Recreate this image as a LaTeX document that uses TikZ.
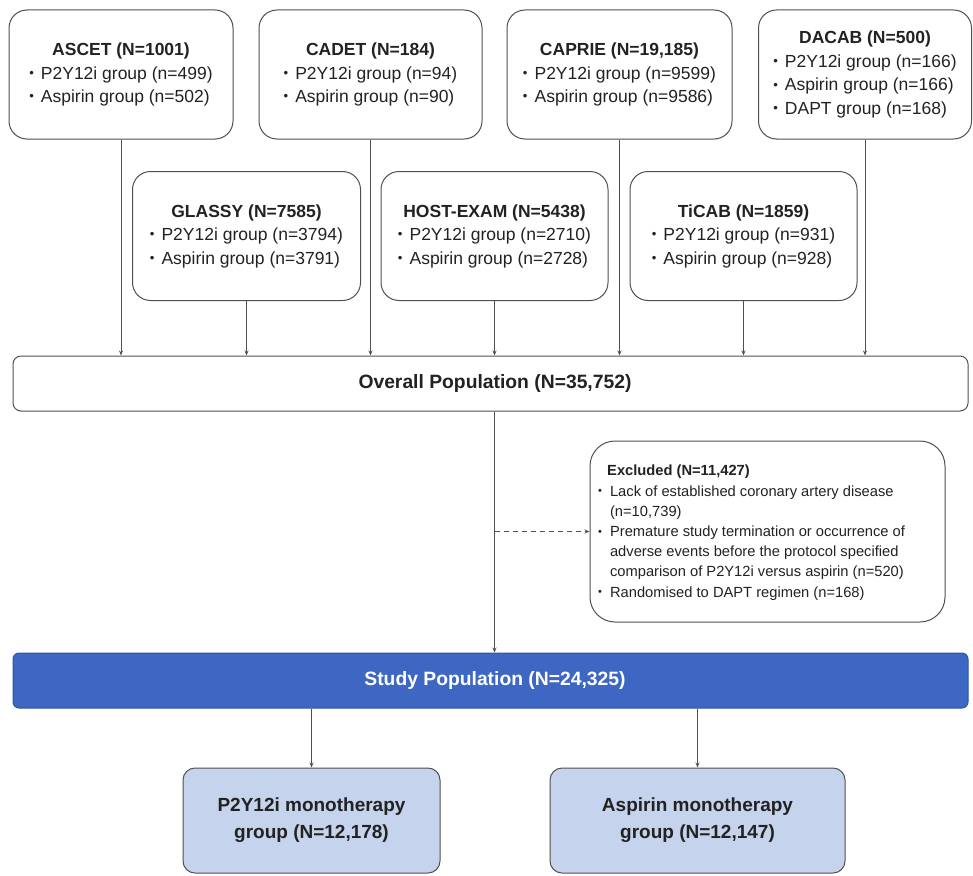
\documentclass[tikz,border=0pt]{standalone}
\usepackage{fontspec}
\usepackage{graphicx}
\setmainfont{Liberation Sans}
\usetikzlibrary{arrows.meta}
\definecolor{linec}{HTML}{505050}
\definecolor{txt}{HTML}{222222}
\definecolor{barblue}{HTML}{3D67C2}
\definecolor{barborder}{HTML}{2F569F}
\definecolor{lightblue}{HTML}{C6D3EC}
\newcommand{\mybul}{\raisebox{0.1em}{\scalebox{0.75}{\textbullet}}}
\newcommand{\mytrial}[2]{\begin{tabular}{@{}l@{\hspace{7pt}}l@{}}\multicolumn{2}{@{}c@{}}{\textbf{#1}}\\#2\end{tabular}}
\begin{document}
\begin{tikzpicture}[x=1pt,y=-1pt,
  trialbox/.style={draw=linec,line width=1pt,rounded corners=18pt,minimum height=129pt,inner sep=0pt,fill=white,text=txt,font=\fontsize{17.5}{23.5}\selectfont},
  widebox/.style={draw=linec,line width=1pt,rounded corners=8pt,minimum width=955pt,minimum height=55pt,fill=white},
  bigtext/.style={inner sep=0pt,font=\bfseries\fontsize{19.3}{23}\selectfont},
  groupbox/.style={fill=lightblue,draw=linec,line width=1pt,rounded corners=12pt,minimum height=105pt,align=center,text=txt,font=\bfseries\fontsize{19}{27}\selectfont},
  conn/.style={draw=linec,line width=1pt,-{Stealth[length=5pt,width=4pt]}}]
\useasboundingbox (0,0) rectangle (973,875);

% top row
\node[trialbox,minimum width=224pt] (ascet) at (121,74.5) {\mytrial{ASCET (N=1001)}{\mybul & P2Y12i group (n=499)\\ \mybul & Aspirin group (n=502)}};
\node[trialbox,minimum width=223pt] (cadet) at (370.5,74.5) {\mytrial{CADET (N=184)}{\mybul & P2Y12i group (n=94)\\ \mybul & Aspirin group (n=90)}};
\node[trialbox,minimum width=225pt] (caprie) at (619.5,74.5) {\mytrial{CAPRIE (N=19,185)}{\mybul & P2Y12i group (n=9599)\\ \mybul & Aspirin group (n=9586)}};
\node[trialbox,minimum width=213pt] (dacab) at (865,74.5) {\mytrial{DACAB (N=500)}{\mybul & P2Y12i group (n=166)\\ \mybul & Aspirin group (n=166)\\ \mybul & DAPT group (n=168)}};

% second row
\node[trialbox,minimum width=228pt] (glassy) at (246.5,236) {\mytrial{GLASSY (N=7585)}{\mybul & P2Y12i group (n=3794)\\ \mybul & Aspirin group (n=3791)}};
\node[trialbox,minimum width=227pt] (host) at (494.5,236) {\mytrial{HOST-EXAM (N=5438)}{\mybul & P2Y12i group (n=2710)\\ \mybul & Aspirin group (n=2728)}};
\node[trialbox,minimum width=227pt] (ticab) at (743.5,236) {\mytrial{TiCAB (N=1859)}{\mybul & P2Y12i group (n=931)\\ \mybul & Aspirin group (n=928)}};

% overall
\node[widebox] (overall) at (490.5,383.5) {};
\node[bigtext,text=txt] (overalltext) at (495,383.5) {Overall Population (N=35,752)};

% excluded
\node[draw=linec,line width=1pt,rounded corners=25pt,minimum width=355pt,minimum height=181pt,fill=white] (exc) at (767.5,531.5) {};
\node[anchor=west,inner sep=0pt,text=txt,font=\fontsize{14.7}{20.2}\selectfont] (exctext) at (598,532.5) {\begin{tabular}{@{}l@{\hspace{8pt}}l@{}}\multicolumn{2}{@{}l}{\hspace{9pt}\textbf{Excluded (N=11,427)}}\\
\mybul & Lack of established coronary artery disease\\
 & (n=10,739)\\
\mybul & Premature study termination or occurrence of\\
 & adverse events before the protocol specified\\
 & comparison of P2Y12i versus aspirin (n=520)\\
\mybul & Randomised to DAPT regimen (n=168)\end{tabular}};

% study population
\node[widebox,fill=barblue,draw=barborder,rounded corners=6pt] (study) at (490.5,680.5) {};
\node[bigtext,text=white] (studytext) at (495,680.5) {Study Population (N=24,325)};

% groups
\node[groupbox,minimum width=257pt] (p2y) at (311.5,820.5) {\rule{0pt}{6pt}P2Y12i monotherapy\\group (N=12,178)};
\node[groupbox,minimum width=295pt] (asp) at (697.5,820.5) {\rule{0pt}{6pt}Aspirin monotherapy\\group (N=12,147)};

% connectors
\foreach \b in {ascet,cadet,caprie,dacab,glassy,host,ticab}
  \draw[conn] (\b.south) -- (\b.south |- overall.north);
\draw[conn] (overall.south -| host.south) -- (study.north -| host.south);
\draw[conn,dash pattern=on 5pt off 4pt] (exc.west -| host.south) -- (exc.west);
\draw[conn] (study.south -| p2y.north) -- (p2y.north);
\draw[conn] (study.south -| asp.north) -- (asp.north);
\end{tikzpicture}
\end{document}
